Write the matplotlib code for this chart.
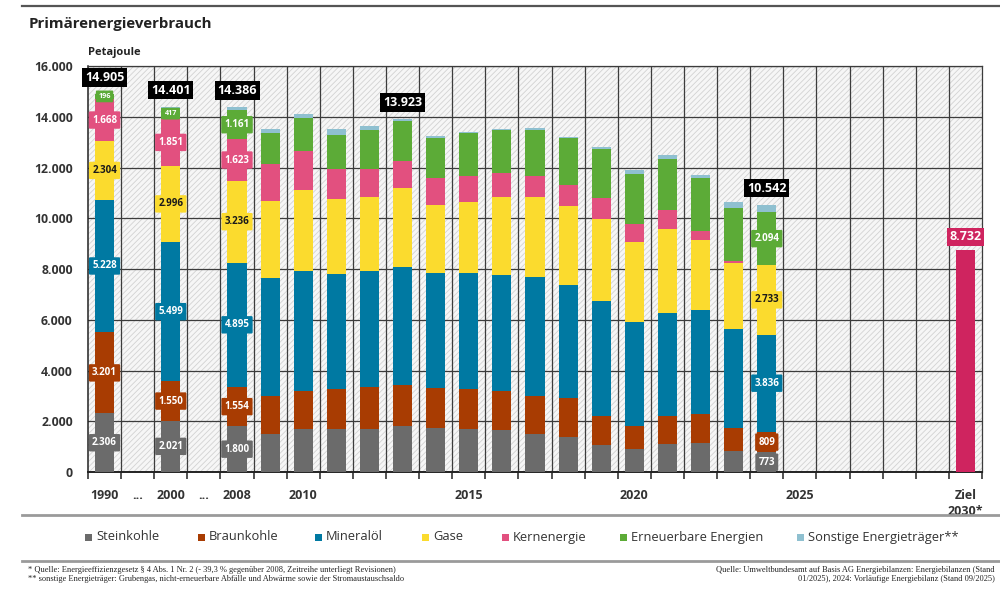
import numpy as np
import matplotlib
matplotlib.use("Agg")
import matplotlib.pyplot as plt
from matplotlib.patches import Rectangle
from matplotlib.lines import Line2D

plt.rcParams['font.family'] = ['Open Sans', 'DejaVu Sans']
plt.rcParams['hatch.linewidth'] = 0.6

# ---------------- data ----------------
years = [1990, 2000, 2008, 2009, 2010, 2011, 2012, 2013, 2014, 2015, 2016,
         2017, 2018, 2019, 2020, 2021, 2022, 2023, 2024]
steinkohle = [2306, 2021, 1800, 1484, 1690, 1690, 1690, 1830, 1730, 1710, 1670,
              1480, 1390, 1060, 890, 1090, 1130, 830, 773]
braunkohle = [3201, 1550, 1554, 1511, 1510, 1570, 1670, 1610, 1590, 1560, 1510,
              1510, 1510, 1160, 940, 1130, 1160, 920, 809]
mineraloel = [5228, 5499, 4895, 4635, 4720, 4560, 4560, 4660, 4510, 4590, 4580,
              4690, 4470, 4530, 4070, 4060, 4090, 3870, 3836]
gase = [2304, 2996, 3236, 3060, 3180, 2930, 2930, 3080, 2680, 2790, 3090,
        3170, 3110, 3220, 3150, 3300, 2760, 2630, 2733]
kernenergie = [1668, 1851, 1623, 1470, 1540, 1180, 1090, 1080, 1060, 1000, 920,
               830, 830, 840, 710, 750, 360, 80, 0]
erneuerbare = [196, 417, 1161, 1190, 1310, 1350, 1540, 1590, 1610, 1700, 1710,
               1820, 1870, 1920, 1980, 2000, 2100, 2090, 2094]
sonstige = [2, 67, 117, 170, 180, 240, 170, 73, 70, 40, 40,
            50, 40, 100, 160, 160, 100, 230, 297]
ziel_2030 = 8732

series_names = ["Steinkohle", "Braunkohle", "Mineralöl", "Gase", "Kernenergie",
                "Erneuerbare Energien", "Sonstige Energieträger**"]
series_values = [steinkohle, braunkohle, mineraloel, gase, kernenergie,
                 erneuerbare, sonstige]
colors = ["#6b6b6b", "#a83c02", "#0079a2", "#fbdb2e", "#e2507f", "#5cab37", "#8fc0d0"]
label_text_colors = ["white", "white", "white", "#1a1a1a", "white", "white", "white"]
ziel_color = "#cf245f"

slot_labels = ["1990", "...", "2000", "...", "2008", "", "2010", "", "", "", "",
               "2015", "", "", "", "", "2020", "", "", "", "", "2025", "", "", "", "",
               "Ziel\n2030*"]
detail_years = [1990, 2000, 2008, 2024]      # segment values shown
total_years = [1990, 2000, 2008, 2013, 2024]  # totals shown


def slot_of(y):
    if y == 1990:
        return 0
    if y == 2000:
        return 2
    if y == 2008:
        return 4
    return 5 + (y - 2009)


def de(v):
    return f"{int(round(v)):,}".replace(",", ".")


# ---------------- figure ----------------
fig = plt.figure(figsize=(10, 5.9), dpi=100)
ax = fig.add_axes([0.088, 0.2, 0.894, 0.688])
ax.set_xlim(-0.5, 26.5)
ax.set_ylim(0, 16000)

# hatched background
ax.add_patch(Rectangle((0, 0), 1, 1, transform=ax.transAxes, facecolor="#f6f6f6",
                       edgecolor="#d2d2d2", hatch="//////", lw=0, zorder=0))
grid_c = "#3c3c3c"
for yv in range(2000, 16001, 2000):
    ax.axhline(yv, color=grid_c, lw=0.9, zorder=1)
for b in np.arange(0.5, 26.5, 1.0):
    ax.axvline(b, color=grid_c, lw=0.9, zorder=1)
for s in ["top", "right"]:
    ax.spines[s].set_color(grid_c)
    ax.spines[s].set_linewidth(0.9)
ax.spines["left"].set_color("#222")
ax.spines["bottom"].set_color("#222")
ax.spines["bottom"].set_linewidth(1.4)
ax.spines["left"].set_linewidth(1.1)

pos = [slot_of(y) for y in years]
w = 0.58
bottom = np.zeros(len(years))
for vals, c, name in zip(series_values, colors, series_names):
    ax.bar(pos, vals, w, bottom=bottom, color=c, lw=0, zorder=3, label=name)
    bottom = bottom + np.array(vals)
totals = bottom

ax.bar([26], [ziel_2030], w, color=ziel_color, lw=0, zorder=3)

# segment labels
for i, y in enumerate(years):
    if y not in detail_years:
        continue
    b = 0
    for k, (vals, c) in enumerate(zip(series_values, colors)):
        v = vals[i]
        if k < 6 and v > 0:
            fs = 7.0 if v >= 500 else 5.2
            ax.text(pos[i], b + v / 2, de(v), ha="center", va="center", fontsize=fs,
                    fontweight="bold", color=label_text_colors[k], zorder=5,
                    bbox=dict(boxstyle="round,pad=0.33,rounding_size=0.12", fc=c, ec="none"))
        b += v

# totals
for i, y in enumerate(years):
    if y in total_years:
        ax.text(pos[i], totals[i] + 650, de(totals[i]), ha="center", va="center",
                fontsize=9, fontweight="bold", color="white", zorder=6,
                bbox=dict(boxstyle="square,pad=0.22", fc="black", ec="none"))
ax.text(26, ziel_2030 + 540, de(ziel_2030), ha="center", va="center",
        fontsize=9, fontweight="bold", color="white", zorder=6,
        bbox=dict(boxstyle="square,pad=0.22", fc=ziel_color, ec="none"))

# axes ticks
ax.set_yticks(range(0, 16001, 2000))
ax.set_yticklabels([de(v) for v in range(0, 16001, 2000)], fontsize=8.8,
                   fontweight="bold", color="#333")
ax.tick_params(axis="y", length=0, pad=11)
ax.set_xticks(range(27))
ax.set_xticklabels(slot_labels, fontsize=9, fontweight="bold", color="#333",
                   linespacing=1.3)
ax.tick_params(axis="x", which="major", length=0, pad=12)
ax.set_xticks(np.arange(-0.5, 27, 1.0), minor=True)
ax.tick_params(axis="x", which="minor", length=5, width=1.1, color="#222",
               direction="out")

# header
H = 590.0
fig.add_artist(Line2D([0.022, 1.0], [1 - 6 / H] * 2, color="#555", lw=1.6))
fig.text(0.029, 1 - 24 / H, "Primärenergieverbrauch", fontsize=10.8, fontweight="bold",
         va="center", color="#222")
fig.text(0.088, 1 - 53 / H, "Petajoule", fontsize=8, fontweight="bold",
         va="center", color="#222")

# separator lines
fig.add_artist(Line2D([0.022, 1.0], [1 - 515 / H] * 2, color="#9a9a9a", lw=2))
fig.add_artist(Line2D([0.022, 1.0], [1 - 561 / H] * 2, color="#9a9a9a", lw=2))

# legend (manual)
leg_x = [85, 198, 315, 422, 502, 620, 797]
ly = 1 - 537 / H
for x, c, name in zip(leg_x, colors, series_names):
    fig.add_artist(Rectangle((x / 1000, ly - 3.5 / H), 7 / 1000, 7 / H,
                             transform=fig.transFigure, fc=c, ec="none"))
    fig.text((x + 11) / 1000, ly, name, fontsize=9.3, va="center", color="#333")

# footnotes
fn = dict(fontsize=6.0, family=["Liberation Serif", "DejaVu Serif"], color="#222",
          va="center")
fig.text(0.028, 1 - 570 / H,
         "* Quelle: Energieeffizienzgesetz § 4 Abs. 1 Nr. 2 (- 39,3 % gegenüber 2008, "
         "Zeitreihe unterliegt Revisionen)", **fn)
fig.text(0.028, 1 - 579 / H,
         "** sonstige Energieträger: Grubengas, nicht-erneuerbare Abfälle und Abwärme "
         "sowie der Stromaustauschsaldo", **fn)
fig.text(0.995, 1 - 570 / H,
         "Quelle: Umweltbundesamt auf Basis AG Energiebilanzen: Energiebilanzen (Stand",
         ha="right", **fn)
fig.text(0.995, 1 - 579 / H,
         "01/2025), 2024: Vorläufige Energiebilanz (Stand 09/2025)", ha="right", **fn)

fig.savefig("out.png", dpi=100)
